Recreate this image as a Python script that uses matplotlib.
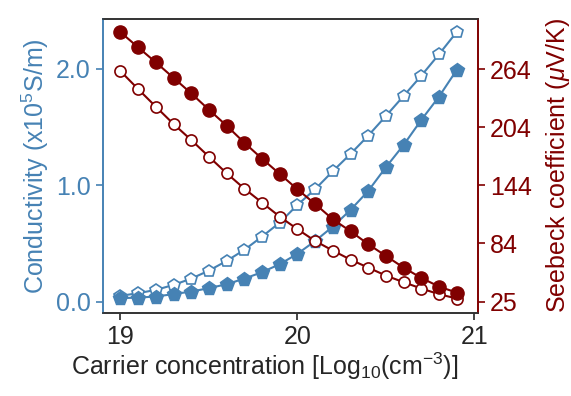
import numpy as np
import matplotlib.pyplot as plt

plt.rcParams['font.family'] = ['Liberation Sans', 'DejaVu Sans']
plt.rcParams['mathtext.fontset'] = 'custom'
plt.rcParams['mathtext.rm'] = 'Liberation Sans'
plt.rcParams['mathtext.it'] = 'Liberation Sans:italic'

# carrier concentration (log10 cm^-3)
carrier = [19.0, 19.1, 19.2, 19.3, 19.4, 19.5, 19.6, 19.7, 19.8, 19.9,
           20.0, 20.1, 20.2, 20.3, 20.4, 20.5, 20.6, 20.7, 20.8, 20.9]

# conductivity (x10^5 S/m)
cond_filled = [0.029, 0.034, 0.043, 0.064, 0.086, 0.115, 0.149, 0.197, 0.252, 0.321,
               0.41, 0.52, 0.644, 0.787, 0.950, 1.154, 1.345, 1.560, 1.760, 1.989]
cond_open = [0.049, 0.072, 0.100, 0.143, 0.197, 0.266, 0.349, 0.444, 0.558, 0.678,
             0.830, 0.965, 1.12, 1.268, 1.425, 1.594, 1.766, 1.940, 2.124, 2.315]

# seebeck coefficient (uV/K)
seeb_filled = [302, 286.3, 270.9, 255, 239, 222.2, 205.8, 188.3, 171.9, 156.2,
               140.4, 125.3, 109.6, 97.3, 84.0, 71.9, 59.9, 49.3, 40.4, 34.2]
seeb_open = [261.9, 243.4, 225.3, 207.5, 191.1, 173.9, 156.9, 141.1, 126.7, 112.3,
             99.4, 87.3, 77.4, 68.1, 59.9, 51.7, 44.9, 38.4, 32.6, 28.1]

blue = '#4682b4'
red = '#800000'
fs = 18

fig = plt.figure(figsize=(5.71, 3.96), dpi=100)
ax1 = fig.add_axes([0.180, 0.210, 0.657, 0.742])
ax2 = ax1.twinx()

ax1.plot(carrier, cond_open, color=blue, lw=1.5, marker='p', ms=9,
         mfc='white', mec=blue, mew=1.2)
ax1.plot(carrier, cond_filled, color=blue, lw=1.5, marker='p', ms=10,
         mfc=blue, mec=blue)

ax2.plot(carrier, seeb_open, color=red, lw=1.5, marker='o', ms=8,
         mfc='white', mec=red, mew=1.2)
ax2.plot(carrier, seeb_filled, color=red, lw=1.5, marker='o', ms=9.5,
         mfc=red, mec=red)

ax1.set_xlim(18.9, 21.02)
ax1.set_ylim(-0.097, 2.427)
ax2.set_ylim(13.4, 315.5)

ax1.set_xticks([19, 20, 21])
ax1.set_yticks([0, 1, 2])
ax1.set_yticklabels(['0.0', '1.0', '2.0'])
rt = np.linspace(25, 264, 5)
ax2.set_yticks(rt)
ax2.set_yticklabels([str(int(v)) for v in rt])

ax1.tick_params(axis='x', colors='#262626', labelsize=fs, length=5, width=1.2)
ax1.tick_params(axis='y', colors=blue, labelsize=fs, length=5, width=1.2)
ax2.tick_params(axis='y', colors=red, labelsize=fs, length=5, width=1.2)

ax1.set_xlabel('Carrier concentration [Log$_{10}$(cm$^{-3}$)]', fontsize=fs, color='#262626')
ax1.xaxis.set_label_coords(0.432, -0.13)
ax1.set_ylabel('Conductivity (x10$^5$S/m)', fontsize=fs, color=blue)
ax2.set_ylabel('Seebeck coefficient ($\\mu$V/K)', fontsize=fs, color=red, labelpad=9)

for ax in (ax1, ax2):
    ax.spines['left'].set_color(blue)
    ax.spines['right'].set_color(red)
    ax.spines['top'].set_color('#333333')
    ax.spines['bottom'].set_color('#333333')
    for s in ax.spines.values():
        s.set_linewidth(1.2)

fig.savefig('out.png', dpi=100)
